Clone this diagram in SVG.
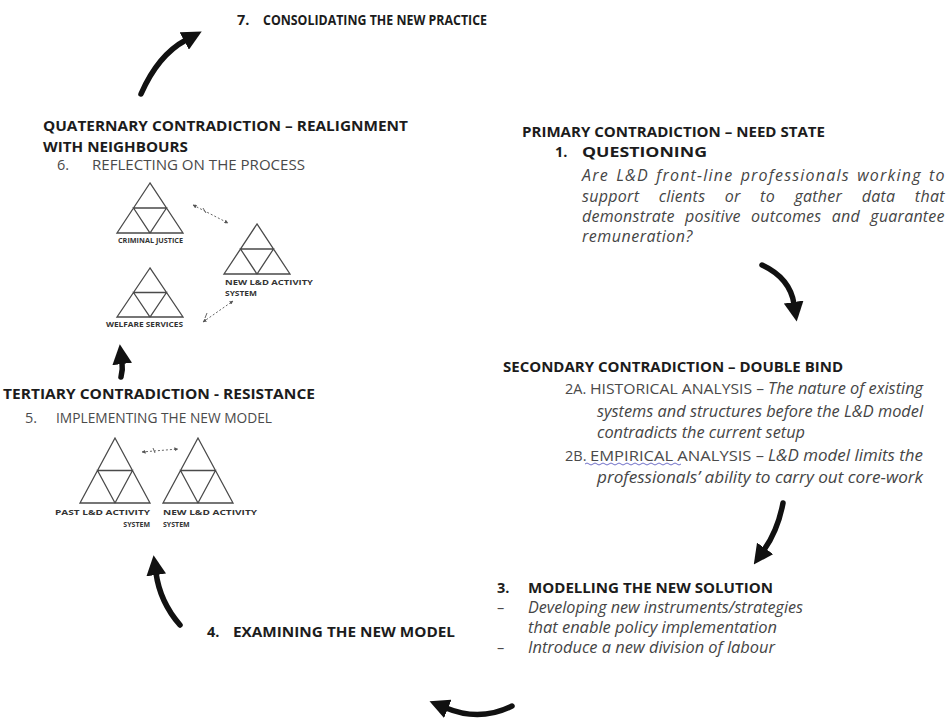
<svg xmlns="http://www.w3.org/2000/svg" width="948" height="720" viewBox="0 0 948 720">
<style>
text{font-family:"Open Sans","Noto Sans","Liberation Sans",sans-serif}
.h{font-size:14.5px;font-weight:700;fill:#1c1c1c}
.r{font-size:14.5px;fill:#4a4a4a}
.i{font-size:15.5px;font-style:italic;fill:#454545}
.p{font-size:16px;letter-spacing:0.5px}
.l{font-size:7px;font-weight:700;fill:#333}
.tri{fill:none;stroke:#4a4a4a;stroke-width:1.3}
.arrow{fill:none;stroke:#111;stroke-width:5.5;stroke-linecap:round;marker-end:url(#head)}
.link{fill:none;stroke:#666;stroke-width:1;stroke-dasharray:2 2;marker-start:url(#tipS);marker-end:url(#tipE)}
.squig{fill:none;stroke:#7070c8;stroke-width:1}
</style>
<defs>
<marker id="head" viewBox="0 0 10 10" refX="1" refY="5" markerWidth="3.6" markerHeight="3.6" orient="auto" markerUnits="strokeWidth"><path d="M0,0 L10,5 L0,10 z" fill="#111"/></marker>
<marker id="tipE" viewBox="0 0 10 10" refX="9" refY="5" markerWidth="4" markerHeight="4" orient="auto" markerUnits="strokeWidth"><path d="M0,0 L10,5 L0,10 z" fill="#555"/></marker>
<marker id="tipS" viewBox="0 0 10 10" refX="1" refY="5" markerWidth="4" markerHeight="4" orient="auto" markerUnits="strokeWidth"><path d="M10,0 L0,5 L10,10 z" fill="#555"/></marker>
</defs>

<!-- stage 7 -->
<g id="n7">
<text class="h" x="237" y="25">7.</text>
<text class="h" x="263" y="25" textLength="224" lengthAdjust="spacingAndGlyphs">CONSOLIDATING THE NEW PRACTICE</text>
</g>

<!-- stage 6: quaternary contradiction -->
<g id="n6">
<text class="h" x="43" y="131" textLength="365" lengthAdjust="spacingAndGlyphs">QUATERNARY CONTRADICTION – REALIGNMENT</text>
<text class="h" x="43" y="152" textLength="145" lengthAdjust="spacingAndGlyphs">WITH NEIGHBOURS</text>
<text class="r" x="57" y="170">6.</text>
<text class="r" x="92" y="170" textLength="213" lengthAdjust="spacingAndGlyphs">REFLECTING ON THE PROCESS</text>
</g>
<g id="criminal-justice">
<path class="tri" d="M150,183 L117,233 L183,233 Z M133.5,208 L166.5,208 L150,233 Z"/>
<text class="l" x="118" y="243" textLength="65" lengthAdjust="spacingAndGlyphs">CRIMINAL JUSTICE</text>
</g>
<g id="new-system-a">
<path class="tri" d="M257,224 L224,274 L290,274 Z M240.5,249 L273.5,249 L257,274 Z"/>
<text class="l" x="225" y="285" textLength="88" lengthAdjust="spacingAndGlyphs">NEW L&amp;D ACTIVITY</text>
<text class="l" x="225" y="296" textLength="32" lengthAdjust="spacingAndGlyphs">SYSTEM</text>
</g>
<g id="welfare-services">
<path class="tri" d="M150,268 L117,317 L183,317 Z M133.5,292.5 L166.5,292.5 L150,317 Z"/>
<text class="l" x="106" y="327" textLength="77" lengthAdjust="spacingAndGlyphs">WELFARE SERVICES</text>
</g>

<!-- stage 5: tertiary contradiction -->
<g id="n5">
<text class="h" x="3" y="399" textLength="312" lengthAdjust="spacingAndGlyphs">TERTIARY CONTRADICTION - RESISTANCE</text>
<text class="r" x="25" y="423">5.</text>
<text class="r" x="56" y="423" textLength="216" lengthAdjust="spacingAndGlyphs">IMPLEMENTING THE NEW MODEL</text>
</g>
<g id="past-system">
<path class="tri" d="M115,438 L80,503 L150,503 Z M97.5,470.5 L132.5,470.5 L115,503 Z"/>
<text class="l" x="55" y="515" font-size="8" textLength="95" lengthAdjust="spacingAndGlyphs">PAST L&amp;D ACTIVITY</text>
<text class="l" x="150" y="527" font-size="8" text-anchor="end">SYSTEM</text>
</g>
<g id="new-system-b">
<path class="tri" d="M198,438 L163,503 L233,503 Z M180.5,470.5 L215.5,470.5 L198,503 Z"/>
<text class="l" x="163" y="515" font-size="8" textLength="94" lengthAdjust="spacingAndGlyphs">NEW L&amp;D ACTIVITY</text>
<text class="l" x="163" y="527" font-size="8">SYSTEM</text>
</g>

<!-- stage 1: primary contradiction (justified paragraph) -->
<g id="n1">
<text class="h" x="522" y="137" textLength="303" lengthAdjust="spacingAndGlyphs">PRIMARY CONTRADICTION – NEED STATE</text>
<text class="h" x="555" y="157">1.</text>
<text class="h" x="582" y="157" textLength="125" lengthAdjust="spacingAndGlyphs">QUESTIONING</text>
<text class="i p" x="582" y="181" textLength="363" lengthAdjust="spacing" word-spacing="2">Are L&amp;D front-line professionals working to</text>
<text class="i p" x="582" y="202" textLength="363" lengthAdjust="spacing" word-spacing="15">support clients or to gather data that</text>
<text class="i p" x="582" y="222" textLength="363" lengthAdjust="spacing" word-spacing="6">demonstrate positive outcomes and guarantee</text>
<text class="i p" x="582" y="242">remuneration?</text>
</g>

<!-- stage 2: secondary contradiction -->
<g id="n2">
<text class="h" x="503" y="372" textLength="340" lengthAdjust="spacingAndGlyphs">SECONDARY CONTRADICTION – DOUBLE BIND</text>
<text class="r" x="565" y="394">2A.</text>
<text class="r" x="590" y="394" textLength="174" lengthAdjust="spacingAndGlyphs">HISTORICAL ANALYSIS –</text>
<text class="i" x="768" y="394" textLength="155" lengthAdjust="spacingAndGlyphs">The nature of existing</text>
<text class="i" x="597" y="417" textLength="326" lengthAdjust="spacingAndGlyphs">systems and structures before the L&amp;D model</text>
<text class="i" x="597" y="438" textLength="208" lengthAdjust="spacingAndGlyphs">contradicts the current setup</text>
<text class="r" x="565" y="461">2B.</text>
<text class="r" x="590" y="461" textLength="174" lengthAdjust="spacingAndGlyphs">EMPIRICAL ANALYSIS –</text>
<text class="i" x="768" y="461" textLength="155" lengthAdjust="spacingAndGlyphs">L&amp;D model limits the</text>
<path class="squig" d="M585,464 q2,-2 4,0 t4,0 t4,0 t4,0 t4,0 t4,0 t4,0 t4,0 t4,0 t4,0 t4,0 t4,0 t4,0 t4,0 t4,0 t4,0 t4,0 t4,0 t4,0 t4,0 t4,0 t4,0 t4,0 t4,0"/>
<text class="i" x="597" y="483" textLength="326" lengthAdjust="spacingAndGlyphs">professionals’ ability to carry out core-work</text>
</g>

<!-- stage 3 -->
<g id="n3">
<text class="h" x="497" y="593">3.</text>
<text class="h" x="528" y="593" textLength="245" lengthAdjust="spacingAndGlyphs">MODELLING THE NEW SOLUTION</text>
<text class="r" x="497" y="613">–</text>
<text class="i" x="528" y="613" textLength="275" lengthAdjust="spacingAndGlyphs">Developing new instruments/strategies</text>
<text class="i" x="528" y="633" textLength="249" lengthAdjust="spacingAndGlyphs">that enable policy implementation</text>
<text class="r" x="497" y="653">–</text>
<text class="i" x="528" y="653" textLength="247" lengthAdjust="spacingAndGlyphs">Introduce a new division of labour</text>
</g>

<!-- stage 4 -->
<g id="n4">
<text class="h" x="207" y="637">4.</text>
<text class="h" x="233" y="637" textLength="222" lengthAdjust="spacingAndGlyphs">EXAMINING THE NEW MODEL</text>
</g>

<!-- cycle arrows and links between activity systems -->
<g id="connectors">
<path class="arrow" d="M762,265 Q790,278 794,304"/>
<path class="arrow" d="M783,503 Q778,530 764,550"/>
<path class="arrow" d="M512,706 Q480,722 446,708"/>
<path class="arrow" d="M180,625 Q160,602 156,573"/>
<path class="arrow" d="M121,377 Q123,370 122,362"/>
<path class="arrow" d="M141,94 Q158,55 186,40"/>
<path class="link" d="M193,205 L228,223"/>
<path class="link" d="M203,322 L233,301"/>
<path class="link" d="M142,452 L178,449"/>
<path fill="none" stroke="#666" stroke-width="1" d="M203,208 l3,5 M205,318 l2,-5 M153,448 l2,5"/>
</g>
</svg>
